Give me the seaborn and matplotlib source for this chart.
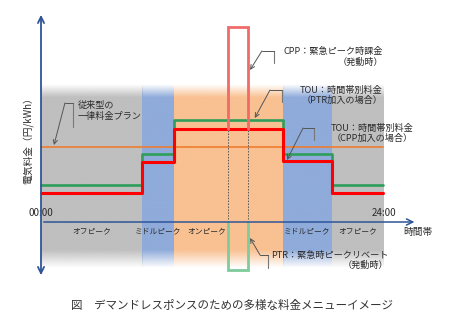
import numpy as np
import pandas as pd
import matplotlib
matplotlib.use("Agg")
import matplotlib.pyplot as plt
from matplotlib.colors import to_rgb
import seaborn as sns

# ---- data -------------------------------------------------------------
# time-of-day boundaries (hours) and the period names of each slot
boundaries = [0.0, 7.1, 9.3, 17.0, 20.4, 24.0]
periods = ["オフピーク", "ミドルピーク", "オンピーク", "ミドルピーク", "オフピーク"]

# price levels (conceptual units) per slot
flat_rate = 7.5
tou_ptr = [3.7, 6.8, 10.2, 6.8, 3.7]   # TOU for PTR subscribers
tou_cpp = [2.9, 6.0, 9.3, 6.1, 2.9]    # TOU for CPP subscribers

# emergency event window and its prices
event_window = [13.1, 14.5]
cpp_peak = 19.5
ptr_rebate = -4.8

# ---- style ------------------------------------------------------------
sns.set_style("white")
plt.rcParams["font.family"] = ["Noto Sans CJK JP", "DejaVu Sans"]

band_colors = {"オフピーク": "#bfbfbf", "ミドルピーク": "#8fabda", "オンピーク": "#f9c192"}
AXIS = "#2f5597"
TXT = "#2b2b2b"
GREEN = "#2e9e5a"
RED = "#ff0000"
ORANGE = "#ed7d31"

fig = plt.figure(figsize=(4.5, 3.27), dpi=100)
ax = fig.add_axes([0, 0, 1, 1])
ax.set_xlim(-2.877, 28.70)
ax.set_ylim(-10.5, 22.2)
ax.axis("off")

# ---- background bands with soft top/bottom edges -----------------------
band_top, band_bot = 13.8, -4.6
yy = np.linspace(band_top, band_bot, 300)
alpha = np.clip((band_top - yy) / 1.3, 0, 1) * np.clip((yy - band_bot) / 1.8, 0, 1)
for x0, x1, name in zip(boundaries[:-1], boundaries[1:], periods):
    rgba = np.zeros((len(yy), 1, 4))
    rgba[:, 0, :3] = to_rgb(band_colors[name])
    rgba[:, 0, 3] = alpha
    ax.imshow(rgba, extent=[x0, x1, band_bot, band_top], aspect="auto",
              interpolation="bilinear", zorder=0)

# ---- rate lines -------------------------------------------------------
def step_frame(levels):
    return pd.DataFrame({"hour": boundaries, "price": list(levels) + [levels[-1]]})

flat_df = pd.DataFrame({"hour": [boundaries[0], boundaries[-1]], "price": [flat_rate, flat_rate]})
sns.lineplot(data=flat_df, x="hour", y="price", ax=ax, color=ORANGE, lw=1.2,
             estimator=None, zorder=2)
sns.lineplot(data=step_frame(tou_ptr), x="hour", y="price", ax=ax, color=GREEN, lw=1.9,
             drawstyle="steps-post", estimator=None, zorder=3)
sns.lineplot(data=step_frame(tou_cpp), x="hour", y="price", ax=ax, color=RED, lw=2.2,
             drawstyle="steps-post", estimator=None, zorder=4)

# emergency event: CPP surcharge spike and PTR rebate dip
on_cpp = tou_cpp[periods.index("オンピーク")]
e0, e1 = event_window
ax.plot([e0, e0, e1, e1], [on_cpp, cpp_peak, cpp_peak, on_cpp], color="#f06a6a",
        lw=2.0, zorder=5, solid_joinstyle="miter")
ax.plot([e0, e0, e1, e1], [0, ptr_rebate, ptr_rebate, 0], color="#7fcb9c",
        lw=2.0, zorder=5, solid_joinstyle="miter")
for xv in event_window:
    ax.plot([xv, xv], [0, on_cpp], color="#555555", lw=0.7, ls=(0, (1.5, 1.5)), zorder=4)

# ---- axes arrows ------------------------------------------------------
ax.annotate("", xy=(0, 21.0), xytext=(0, -5.6),
            arrowprops=dict(arrowstyle="<->,head_length=0.45,head_width=0.22",
                            color=AXIS, lw=1.3), zorder=6)
ax.annotate("", xy=(26.4, 0), xytext=(0, 0),
            arrowprops=dict(arrowstyle="->,head_length=0.45,head_width=0.22",
                            color=AXIS, lw=1.1), zorder=6)

ax.text(0, 0.9, "00:00", ha="center", va="center", fontsize=7, color=TXT)
ax.text(24.07, 0.9, "24:00", ha="center", va="center", fontsize=7, color=TXT)
ax.text(26.46, -1.0, "時間帯", ha="center", va="center", fontsize=7, color=TXT)
ax.text(-0.91, 8.4, "電気料金（円/kWh）", rotation=90, ha="center", va="center",
        fontsize=7, color=TXT)

# period names under the time axis
label_x = [(a + b) / 2 for a, b in zip(boundaries[:-1], boundaries[1:])]
label_x[periods.index("オンピーク")] = 11.6
for xv, name in zip(label_x, periods):
    ax.text(xv, -0.9, name, ha="center", va="center", fontsize=5.6, color=TXT)

# ---- callouts ---------------------------------------------------------
LEAD = "#555555"

def callout(text, tx, ty, ha, bar_x, bar_y0, bar_y1, knee_x, tip):
    ax.text(tx, ty, text, ha=ha, va="center", ma=ha, fontsize=6.6, color=TXT,
            linespacing=1.15, zorder=7)
    ax.plot([bar_x, bar_x], [bar_y0, bar_y1], color="#777777", lw=0.8, zorder=7)
    ax.plot([bar_x, knee_x], [bar_y0, bar_y0], color=LEAD, lw=0.7, zorder=7)
    ax.annotate("", xy=tip, xytext=(knee_x, bar_y0),
                arrowprops=dict(arrowstyle="->,head_length=0.3,head_width=0.15",
                                color=LEAD, lw=0.7, shrinkA=0, shrinkB=0), zorder=7)

callout("従来型の\n一律料金プラン", 2.6, 11.1, "left", 2.25, 11.9, 9.5, 1.68, (0.91, 7.7))
callout("CPP：緊急ピーク時課金\n（発動時）", 24.0, 16.5, "right", 16.35, 17.1, 15.9, 15.5, (14.67, 15.2))
callout("TOU：時間帯別料金\n（PTR加入の場合）", 23.93, 12.65, "right", 16.9, 13.2, 12.0, 16.07, (15.0, 10.4))
callout("TOU：時間帯別料金\n（CPP加入の場合）", 26.1, 8.85, "right", 19.16, 9.4, 8.2, 18.39, (17.26, 6.2))
callout("PTR：緊急時ピークリベート\n（発動時）", 24.35, -3.85, "right", 15.93, -3.3, -4.6, 15.37, (14.67, -1.6))

# ---- caption ----------------------------------------------------------
fig.text(232 / 450, 1 - 306 / 327, "図　デマンドレスポンスのための多様な料金メニューイメージ",
         ha="center", va="center", fontsize=8.3, color="#333333")

fig.savefig("out.png", dpi=100)
